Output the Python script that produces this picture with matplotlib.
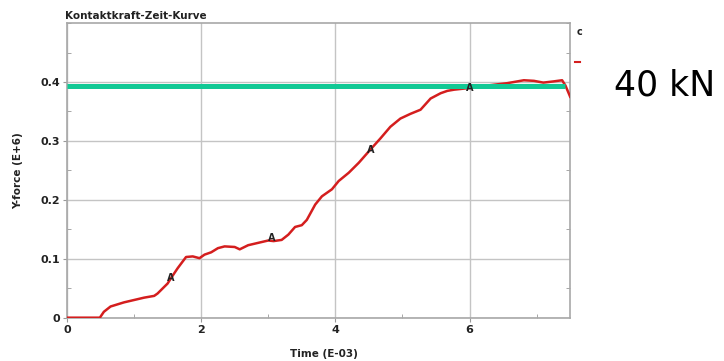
import matplotlib
matplotlib.use("Agg")
import matplotlib.pyplot as plt
from matplotlib.ticker import MultipleLocator

# Data
time = [0.0, 0.49, 0.55, 0.65, 0.85, 1.0, 1.15, 1.3, 1.35, 1.5, 1.55, 1.65, 1.775, 1.875,
        1.975, 2.05, 2.15, 2.25, 2.35, 2.5, 2.575, 2.7, 2.85, 3.0, 3.08, 3.2, 3.3, 3.4,
        3.5, 3.575, 3.7, 3.8, 3.95, 4.05, 4.2, 4.35, 4.52, 4.67, 4.82, 4.97, 5.12, 5.27,
        5.42, 5.57, 5.67, 5.77, 6.01, 6.26, 6.56, 6.81, 6.96, 7.1, 7.25, 7.38, 7.43, 7.5]
force = [0.0, 0.0, 0.010, 0.019, 0.026, 0.030, 0.034, 0.037, 0.041, 0.058, 0.067, 0.084,
         0.103, 0.104, 0.101, 0.107, 0.111, 0.118, 0.121, 0.120, 0.116, 0.123, 0.127, 0.131,
         0.130, 0.132, 0.141, 0.154, 0.157, 0.166, 0.192, 0.206, 0.218, 0.232, 0.246, 0.263,
         0.285, 0.304, 0.324, 0.338, 0.346, 0.353, 0.372, 0.381, 0.385, 0.387, 0.390, 0.394,
         0.398, 0.403, 0.402, 0.399, 0.401, 0.403, 0.394, 0.375]
marker_t = [1.55, 3.05, 4.52, 6.0]
marker_f = [0.067, 0.136, 0.285, 0.390]
ref_level = 0.393
ref_t = [0.0, 7.43]
x_ticks = [0, 2, 4, 6]
y_ticks = [0, 0.1, 0.2, 0.3, 0.4]
y_ticklabels = ["0", "0.1", "0.2", "0.3", "0.4"]

fig = plt.figure(figsize=(7.24, 3.61), dpi=100)
ax = fig.add_axes([0.0925, 0.12, 0.695, 0.816])

ax.plot(time, force, color="#d41e1e", lw=1.8, zorder=3)
ax.plot(ref_t, [ref_level, ref_level], color="#12c995", lw=3.6, zorder=4,
        solid_capstyle="butt")
for t, f in zip(marker_t, marker_f):
    ax.text(t, f, "A", fontsize=7, fontweight="bold", color="#222222",
            ha="center", va="center", zorder=5)

ax.set_xlim(0, 7.5)
ax.set_ylim(0, 0.5)
ax.set_xticks(x_ticks)
ax.set_yticks(y_ticks)
ax.set_yticklabels(y_ticklabels)
ax.xaxis.set_minor_locator(MultipleLocator(1))
ax.yaxis.set_minor_locator(MultipleLocator(0.05))
ax.grid(True, which="major", color="#c4c4c4", lw=1.0)
ax.tick_params(which="major", direction="out", length=3, color="#999999",
               labelsize=8, pad=2)
ax.tick_params(which="minor", direction="in", length=3, color="#999999",
               right=True)
for lbl in ax.get_xticklabels() + ax.get_yticklabels():
    lbl.set_fontweight("bold")
    lbl.set_color("#222222")
for s in ax.spines.values():
    s.set_color("#a8a8a8")
    s.set_linewidth(1.2)

ax.set_xlabel("Time (E-03)", fontsize=7.5, fontweight="bold", color="#222222")
ax.xaxis.set_label_coords(0.51, -0.105)
ax.set_ylabel("Y-force (E+6)", fontsize=7.5, fontweight="bold", color="#222222")
ax.yaxis.set_label_coords(-0.088, 0.5)
ax.set_title("Kontaktkraft-Zeit-Kurve", fontsize=7.5, fontweight="bold",
             color="#222222", loc="left", pad=3, x=-0.003)

# clipped legend fragment at right
fig.text(577 / 724, 1 - 32 / 361, "c", fontsize=7, fontweight="bold",
         color="#222222", ha="left", va="center")
fig.add_artist(plt.Line2D([575 / 724, 580 / 724], [1 - 62 / 361, 1 - 62 / 361],
                          color="#d41e1e", lw=1.5))

fig.text(614 / 724, 1 - 85 / 361, "40 kN", fontsize=25, color="black",
         ha="left", va="center")

fig.savefig("out.png", dpi=100)
